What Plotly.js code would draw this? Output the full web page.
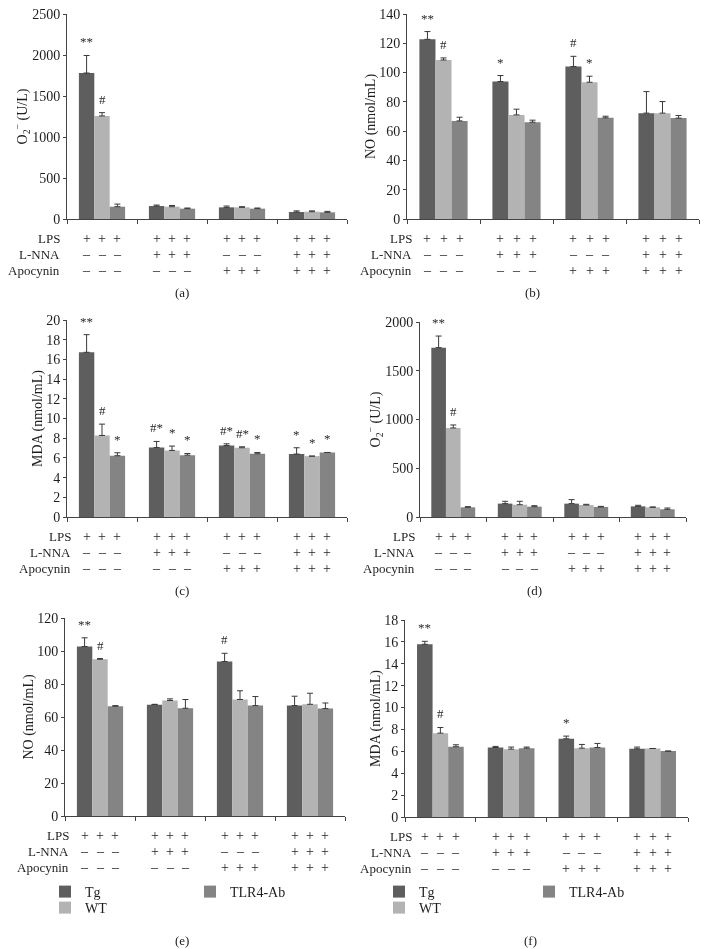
<!DOCTYPE html>
<html><head><meta charset="utf-8">
<script src="https://cdn.plot.ly/plotly-3.0.1.min.js"></script>
<style>
html,body{margin:0;padding:0;background:#fff}
#chart{width:704px;height:949px;will-change:transform;opacity:0.999}
</style>
</head><body><div id="chart"></div>
<script>
// ---------- data ----------
const groups = ['G1', 'G2', 'G3', 'G4'];
const seriesNames = ['Tg', 'WT', 'TLR4-Ab'];
const rowLabels = ['LPS', 'L-NNA', 'Apocynin'];
const lpsRow = ['+', '+', '+', '+'];
const lnnaRow = ['–', '+', '–', '+'];
const apocyninRow = ['–', '–', '+', '+'];

// (a) O2- (U/L)
const aTg = [1780, 158, 142, 85],   aTgErr = [214, 12, 16, 14];
const aWT = [1257, 150, 142, 89],   aWTErr = [40, 15, 8, 10];
const aTL = [150, 126, 126, 81],    aTLErr = [32, 8, 8, 12];
const aMarks = [['**', '', '', ''], ['#', '', '', ''], ['', '', '', '']];

// (b) NO (nmol/mL)
const bTg = [122.7, 93.9, 104.1, 72.3], bTgErr = [5.3, 4.1, 7.0, 14.7];
const bWT = [108.6, 71.1, 93.4, 72.3],  bWTErr = [1.4, 3.9, 4.1, 7.9];
const bTL = [67.0, 66.1, 69.1, 68.9],   bTLErr = [2.5, 1.4, 1.1, 1.8];
const bMarks = [['**', '*', '#', ''], ['#', '', '*', ''], ['', '', '', '']];

// (c) MDA (nmol/mL)
const cTg = [16.72, 7.06, 7.26, 6.39], cTgErr = [1.79, 0.61, 0.17, 0.64];
const cWT = [8.28, 6.76, 7.03, 6.18],  cWTErr = [1.15, 0.44, 0.10, 0];
const cTL = [6.22, 6.28, 6.42, 6.55],  cTLErr = [0.30, 0.17, 0.13, 0];
const cMarks = [['**', '#*', '#*', '*'], ['#', '*', '#*', '*'], ['*', '*', '*', '*']];

// (d) O2- (U/L)
const dTg = [1737, 137, 137, 109], dTgErr = [119, 24, 41, 11];
const dWT = [913, 126, 123, 99],   dWTErr = [31, 35, 7, 4];
const dTL = [99, 106, 103, 79],    dTLErr = [7, 10, 6, 13];
const dMarks = [['**', '', '', ''], ['#', '', '', ''], ['', '', '', '']];

// (e) NO (nmol/mL)
const eTg = [102.7, 67.5, 93.6, 66.9], eTgErr = [5.3, 0.2, 5.0, 5.7];
const eWT = [95.0, 70.0, 70.6, 67.7],  eWTErr = [0.4, 1.0, 5.3, 6.7];
const eTL = [66.5, 65.3, 66.9, 65.1],  eTLErr = [0.4, 5.3, 5.5, 3.4];
const eMarks = [['**', '', '#', ''], ['#', '', '', ''], ['', '', '', '']];

// (f) MDA (nmol/mL)
const fTg = [15.78, 6.35, 7.15, 6.23], fTgErr = [0.27, 0.10, 0.24, 0.16];
const fWT = [7.66, 6.20, 6.29, 6.26],  fWTErr = [0.52, 0.19, 0.34, 0];
const fTL = [6.42, 6.29, 6.35, 6.02],  fTLErr = [0.18, 0.10, 0.37, 0];
const fMarks = [['**', '', '*', ''], ['#', '', '', ''], ['', '', '', '']];

// ---------- layout helpers ----------
const W = 704, H = 949;
const colors = ['#5e5e5e', '#b3b3b3', '#848484'];
const FONT = "'Liberation Serif', 'Times New Roman', serif";
const TXT = '#1e1e1e';
const O2 = 'O<sub>2</sub><sup>−</sup> (U/L)';

const panels = [
  {cap: '(a)', title: O2, range: [0, 2500], dtick: 500, px: [67, 347], py: [14, 219], labRight: 62, capX: 182, capDy: 73,
   vals: [aTg, aWT, aTL], errs: [aTgErr, aWTErr, aTLErr], marks: aMarks},
  {cap: '(b)', title: 'NO (nmol/mL)', range: [0, 140], dtick: 20, px: [407, 699], py: [14, 219], labRight: 414, capX: 532, capDy: 73,
   vals: [bTg, bWT, bTL], errs: [bTgErr, bWTErr, bTLErr], marks: bMarks},
  {cap: '(c)', title: 'MDA (nmol/mL)', range: [0, 20], dtick: 2, px: [67, 347], py: [320, 517], labRight: 73, capX: 182, capDy: 73,
   vals: [cTg, cWT, cTL], errs: [cTgErr, cWTErr, cTLErr], marks: cMarks},
  {cap: '(d)', title: O2, range: [0, 2000], dtick: 500, px: [420, 686], py: [322, 517], labRight: 417, capX: 534, capDy: 73,
   vals: [dTg, dWT, dTL], errs: [dTgErr, dWTErr, dTLErr], marks: dMarks},
  {cap: '(e)', title: 'NO (nmol/mL)', range: [0, 120], dtick: 20, px: [65, 345], py: [618, 816], labRight: 71, capX: 182, capDy: 124,
   vals: [eTg, eWT, eTL], errs: [eTgErr, eWTErr, eTLErr], marks: eMarks,
   legends: ['legend', 'legend2', 'legend3'], legPos: [[45, 892], [45, 908], [190, 892]]},
  {cap: '(f)', title: 'MDA (nmol/mL)', range: [0, 18], dtick: 2, px: [405, 688], py: [620, 817], labRight: 414, capX: 530, capDy: 123,
   vals: [fTg, fWT, fTL], errs: [fTgErr, fWTErr, fTLErr], marks: fMarks,
   legends: ['legend4', 'legend5', 'legend6'], legPos: [[379, 892], [379, 908], [529, 892]]}
];

const BARGAP = 0.34;
const barW = (1 - BARGAP) / 3;
const offsets = [-barW, 0, barW];
const rowShifts = [-19, -35, -51];
const rows = [lpsRow, lnnaRow, apocyninRow];

const traces = [];
const annotations = [];
const layout = {
  width: W, height: H,
  margin: {l: 0, r: 0, t: 0, b: 0},
  paper_bgcolor: '#fff', plot_bgcolor: '#fff',
  barmode: 'group', bargap: BARGAP, bargroupgap: 0,
  font: {family: FONT, size: 13, color: TXT},
  showlegend: true
};

const legBase = {bgcolor: 'rgba(0,0,0,0)', borderwidth: 0, orientation: 'v', xanchor: 'left', yanchor: 'top',
  font: {family: FONT, size: 14, color: TXT}, itemwidth: 30, tracegroupgap: 0};

panels.forEach((p, i) => {
  const n = i === 0 ? '' : String(i + 1);
  const xa = 'x' + n, ya = 'y' + n;
  layout['xaxis' + n] = {
    domain: [p.px[0] / W, p.px[1] / W], anchor: ya,
    type: 'category', categoryorder: 'array', categoryarray: groups,
    showticklabels: false, ticks: 'outside', tickson: 'boundaries', ticklen: 4,
    tickcolor: '#444', showline: true, linecolor: '#444', linewidth: 1,
    showgrid: false, zeroline: false, fixedrange: true
  };
  layout['yaxis' + n] = {
    domain: [1 - p.py[1] / H, 1 - p.py[0] / H], anchor: xa,
    range: p.range, dtick: p.dtick, tick0: 0,
    ticks: 'outside', ticklen: 3, tickcolor: '#444',
    showline: true, linecolor: '#444', linewidth: 1,
    showgrid: false, zeroline: false, fixedrange: true,
    tickfont: {family: FONT, size: 14, color: TXT},
    title: {text: p.title, font: {family: FONT, size: 14, color: TXT}, standoff: 0}
  };
  p.vals.forEach((v, s) => {
    const tr = {
      type: 'bar', name: seriesNames[s], x: groups, y: v, xaxis: xa, yaxis: ya,
      marker: {color: colors[s], line: {width: 0}},
      error_y: {type: 'data', symmetric: false, array: p.errs[s], arrayminus: v.map(() => 0),
                color: '#3a3a3a', thickness: 1, width: 3},
      showlegend: !!p.legends,
      hoverinfo: 'skip'
    };
    if (p.legends) {
      tr.legend = p.legends[s];
      layout[p.legends[s]] = Object.assign({}, legBase, {
        x: p.legPos[s][0] / W, y: 1 - (p.legPos[s][1] - 16) / H
      });
    }
    traces.push(tr);
    // significance marks
    p.marks[s].forEach((m, g) => {
      if (!m) return;
      annotations.push({
        xref: xa, yref: ya, x: g + offsets[s], y: v[g] + p.errs[s][g],
        text: m, showarrow: false, yanchor: 'bottom', yshift: 4,
        font: {family: FONT, size: 13, color: '#2a2a2a'}
      });
    });
  });
  // condition table
  rows.forEach((row, r) => {
    annotations.push({
      xref: 'paper', yref: ya + ' domain', x: p.labRight / W, y: 0, yshift: rowShifts[r],
      text: rowLabels[r], showarrow: false, xanchor: 'right', yanchor: 'middle',
      font: {family: FONT, size: 13, color: TXT}
    });
    row.forEach((sym, g) => {
      offsets.forEach(off => {
        annotations.push({
          xref: xa, yref: ya + ' domain', x: g + off, y: 0, yshift: rowShifts[r],
          text: sym, showarrow: false, xanchor: 'center', yanchor: 'middle',
          font: {family: FONT, size: 14, color: TXT}
        });
      });
    });
  });
  // caption
  annotations.push({
    xref: 'paper', yref: 'paper', x: p.capX / W, y: 1 - (p.py[1] + p.capDy) / H,
    text: p.cap, showarrow: false, xanchor: 'center', yanchor: 'middle',
    font: {family: FONT, size: 13, color: TXT}
  });
});

layout.annotations = annotations;

Plotly.newPlot('chart', traces, layout, {displayModeBar: false, staticPlot: true});
</script>
</body></html>
